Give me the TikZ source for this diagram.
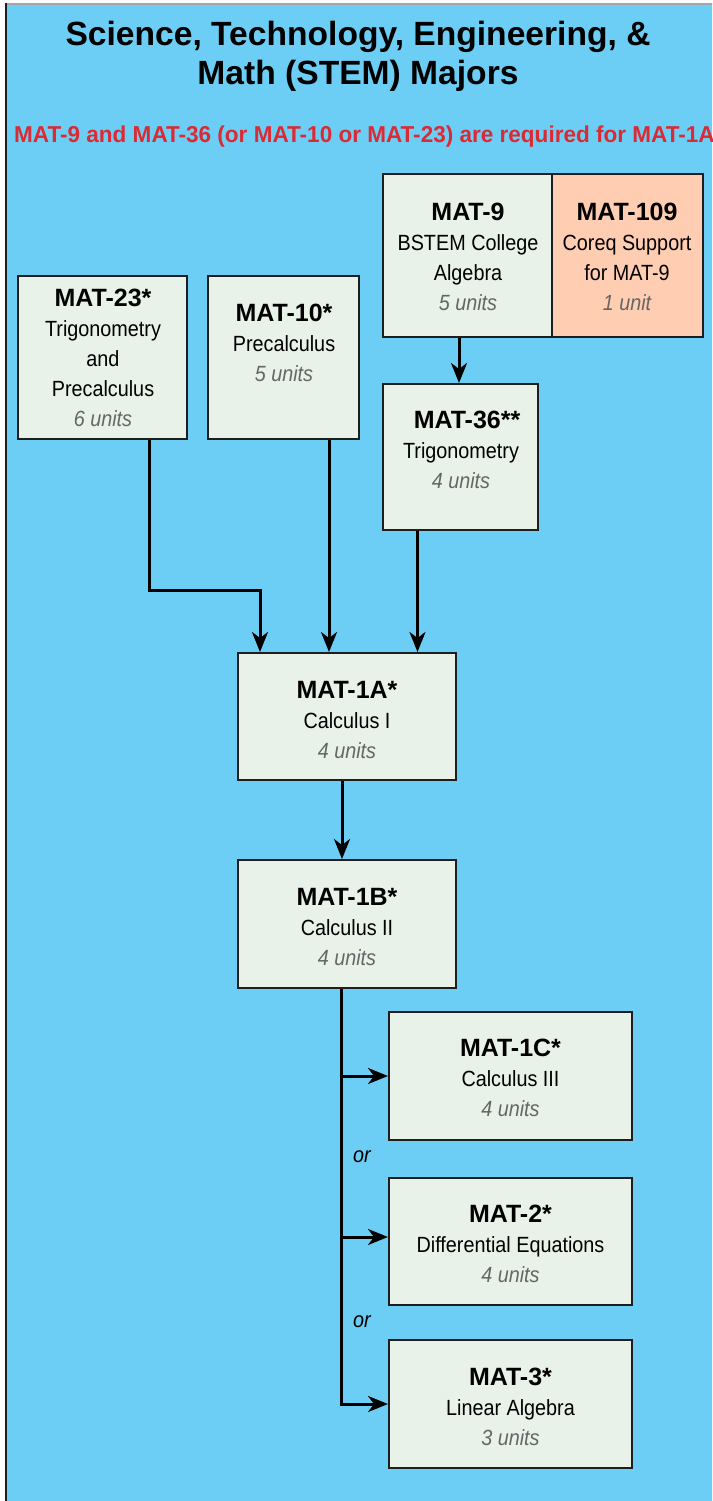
\documentclass[tikz,border=0pt]{standalone}
\usepackage{fontspec}
\setmainfont{Liberation Sans}
\newfontfamily\bodyfont{Liberation Sans}[FakeStretch=0.9]
\newfontfamily\notefont{Liberation Sans}[FakeStretch=0.98]
\usetikzlibrary{arrows.meta}
\definecolor{bgblue}{HTML}{6CCEF5}
\definecolor{boxfill}{HTML}{E9F2E8}
\definecolor{corefill}{HTML}{FFCDB2}
\definecolor{redtxt}{HTML}{DA2B35}
\definecolor{unitgrey}{HTML}{666666}
\definecolor{edgegrey}{HTML}{1E1E1E}
\newcommand{\tb}{\rmfamily\fontsize{25}{30}\selectfont\bfseries}
\newcommand{\tu}{\bodyfont\fontsize{22}{30}\selectfont\itshape\color{unitgrey}}
\tikzset{
  course/.style={draw=edgegrey, line width=2pt, fill=boxfill, inner sep=0pt},
  corebox/.style={course, fill=corefill},
  txt/.style={align=center, inner sep=0pt, font=\bodyfont\fontsize{22}{30}\selectfont},
  conn/.style={line width=3pt, black},
  arr/.style={conn, -{Stealth[length=20pt,width=16pt,inset=6pt]}},
  ortxt/.style={inner sep=0pt, font=\bodyfont\fontsize{22}{26}\selectfont\itshape}
}
\begin{document}
\begin{tikzpicture}[x=1pt,y=-1pt]
\useasboundingbox (0,0) rectangle (712,1501);
\begin{scope}
\clip (0,0) rectangle (712,1501);
\fill[white] (0,0) rectangle (712,1501);
\fill[bgblue] (5,4) rectangle (760,1560);
\draw[line width=2pt, color=gray!70] (5,4) -- (760,4);
\draw[line width=2.5pt, color=edgegrey] (6,3) -- (6,1560);

% title
\node[font=\fontsize{33.6}{39}\selectfont\bfseries, align=center, inner sep=0pt] (title) at (358,56)
  {Science, Technology, Engineering, \&\\ Math (STEM) Majors};
\node[font=\notefont\fontsize{23}{26}\selectfont\bfseries, text=redtxt, anchor=west, inner sep=0pt] (note) at (14,137)
  {MAT-9 and MAT-36 (or MAT-10 or MAT-23) are required for MAT-1A};

% boxes
\node[course, minimum width=169pt, minimum height=163pt] (m9) at (467.5,255.5) {};
\node[corebox, minimum width=151pt, minimum height=163pt] (m109) at (627.5,255.5) {};
\node[course, minimum width=169pt, minimum height=163pt] (m23) at (102.5,357.5) {};
\node[course, minimum width=151pt, minimum height=163pt] (m10) at (283.5,357.5) {};
\node[course, minimum width=155pt, minimum height=146pt] (m36) at (460.5,457) {};
\node[course, minimum width=218pt, minimum height=127pt] (m1a) at (347,716.5) {};
\node[course, minimum width=218pt, minimum height=128pt] (m1b) at (347,924) {};
\node[course, minimum width=243pt, minimum height=128pt] (m1c) at (510.5,1076) {};
\node[course, minimum width=243pt, minimum height=127pt] (m2) at (510.5,1241.5) {};
\node[course, minimum width=243pt, minimum height=128pt] (m3) at (510.5,1404) {};

% texts
\node[txt] (m9t) at (468,257) {{\tb MAT-9}\\ BSTEM College\\ Algebra\\ {\tu 5 units}};
\node[txt] (m109t) at (627,257) {{\tb MAT-109}\\ Coreq Support\\ for MAT-9\\ {\tu 1 unit}};
\node[txt] (m23t) at (103,358) {{\tb MAT-23*}\\ Trigonometry\\ and\\ Precalculus\\ {\tu 6 units}};
\node[txt] (m10t) at (284,343) {{\tb MAT-10*}\\ Precalculus\\ {\tu 5 units}};
\node[txt] (m36t) at (461,450) {{\tb\hspace*{12pt}MAT-36**}\\ Trigonometry\\ {\tu 4 units}};
\node[txt] (m1at) at (347,720) {{\tb MAT-1A*}\\ Calculus I\\ {\tu 4 units}};
\node[txt] (m1bt) at (347,927) {{\tb MAT-1B*}\\ Calculus II\\ {\tu 4 units}};
\node[txt] (m1ct) at (510.5,1078) {{\tb MAT-1C*}\\ Calculus III\\ {\tu 4 units}};
\node[txt] (m2t) at (510.5,1244) {{\tb MAT-2*}\\ Differential Equations\\ {\tu 4 units}};
\node[txt] (m3t) at (510.5,1407) {{\tb MAT-3*}\\ Linear Algebra\\ {\tu 3 units}};

% connectors
\coordinate (a9) at ([xshift=-8.5pt]m9.south);
\draw[arr] (a9) -- (a9 |- m36.north);
\coordinate (a23) at ([xshift=46.5pt]m23.south);
\coordinate (b23) at ([xshift=-87pt]m1a.north);
\draw[arr] (a23) -- ++(0,150) -| (b23);
\coordinate (a10) at ([xshift=45.5pt]m10.south);
\draw[arr] (a10) -- (a10 |- m1a.north);
\coordinate (a36) at ([xshift=-43pt]m36.south);
\draw[arr] (a36) -- (a36 |- m1a.north);
\coordinate (a1a) at ([xshift=-5pt]m1a.south);
\draw[arr] (a1a) -- (a1a |- m1b.north);
\coordinate (t0) at ([xshift=-6pt]m1b.south);
\draw[arr] (t0) |- (m3.west);
\draw[arr] (t0 |- m1c.west) -- (m1c.west);
\coordinate (w2) at ([yshift=4.5pt]m2.west);
\draw[arr] (t0 |- w2) -- (w2);

\node[ortxt] (or1) at (362,1157) {or};
\node[ortxt] (or2) at (362,1322) {or};
\end{scope}
\end{tikzpicture}
\end{document}
